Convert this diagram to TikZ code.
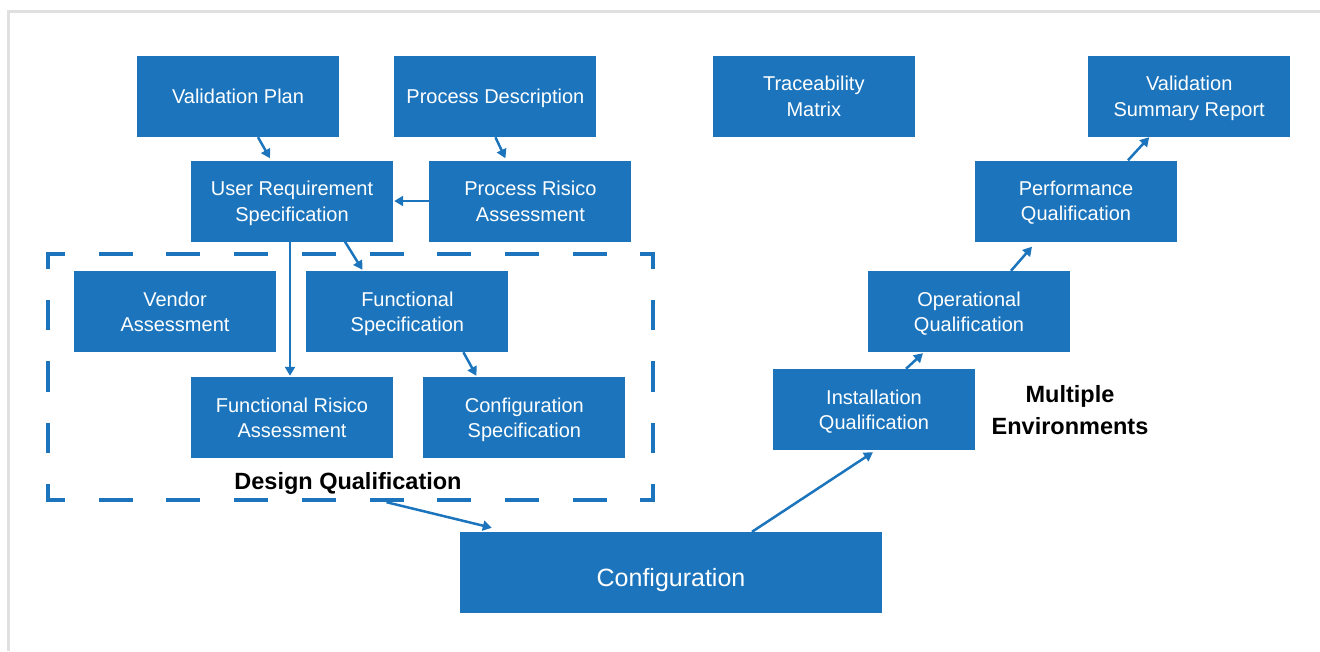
\documentclass[tikz,border=0pt]{standalone}
\usepackage{fontspec}
\setmainfont{Liberation Sans}
\usepackage{tikz}
\usetikzlibrary{arrows.meta,positioning}

\definecolor{boxblue}{RGB}{28,117,188}
\definecolor{framegray}{RGB}{224,224,224}

\begin{document}
\begin{tikzpicture}[
  x=1pt, y=-1pt,
  box/.style={
    rectangle,
    fill=boxblue,
    text=white,
    align=center,
    inner sep=0pt,
    text depth=0pt,
    minimum width=202pt,
    minimum height=81pt,
    font=\fontsize{20}{25.5}\selectfont
  },
  bigbox/.style={
    box,
    minimum width=422pt,
    text height=28pt,
    font=\fontsize{25}{30}\selectfont
  },
  heading/.style={
    align=center,
    font=\bfseries\fontsize{23.5}{32}\selectfont
  },
  dqline/.style={
    draw=boxblue,
    line width=4.5pt,
    line cap=rect
  },
  arr/.style={-{Triangle[length=9pt,width=10pt]}, draw=boxblue, line width=2.5pt}
]
\useasboundingbox (0,0) rectangle (1320,651);
\draw[framegray, line width=3pt] (8.5,651) -- (8.5,11) -- (1320,11);

% top row
\node[box] (vp) at (238,96.5) {Validation Plan};
\node[box, right=55pt of vp] (pd) {Process Description};
\node[box, right=116pt of pd] (tm) {Traceability\\Matrix};
\node[box, right=173pt of tm] (vsr) {Validation\\Summary Report};

% requirements
\node[box] (urs) at (292,201) {User Requirement\\Specification};
\node[box, right=36pt of urs] (pra) {Process Risico\\Assessment};

% design qualification
\node[minimum width=605pt, minimum height=246pt, inner sep=0pt] (dq) at (350.5,377) {};
\node[box] (va) at (175,311.5) {Vendor\\Assessment};
\node[box, right=30pt of va] (fs) {Functional\\Specification};
\node[box] (fra) at (292,417.5) {Functional Risico\\Assessment};
\node[box, right=30pt of fra] (cs) {Configuration\\Specification};
\node[heading] (dqlabel) at (348,483) {Design Qualification};

\draw[dqline, dash pattern=on 29.5pt off 38.2pt, dash phase=14.5pt] (dq.north west) -- (dq.north east);
\draw[dqline, dash pattern=on 29.5pt off 38.2pt, dash phase=14.5pt] (dq.south west) -- (dq.south east);
\draw[dqline, dash pattern=on 26pt off 35.5pt, dash phase=13.25pt] (dq.north west) -- (dq.south west);
\draw[dqline, dash pattern=on 26pt off 35.5pt, dash phase=13.25pt] (dq.north east) -- (dq.south east);

\node[bigbox] (config) at (671,572.5) {Configuration};

% qualification steps
\node[box] (iq) at (874,409.5) {Installation\\Qualification};
\node[box] (oq) at (969,311.5) {Operational\\Qualification};
\node[box] (pq) at (1076,201) {Performance\\Qualification};
\node[heading] (envlabel) at (1070,410) {Multiple\\Environments};

\draw[arr] ([xshift=20pt]vp.south) -- ([xshift=-22pt,yshift=2pt]urs.north);
\draw[arr] (pd.south) -- ([xshift=-25pt,yshift=2pt]pra.north);
\draw[arr] (pra.west) -- ([xshift=1pt]urs.east);
\draw[arr] ([xshift=53pt]urs.south) -- ([xshift=-45pt,yshift=1pt]fs.north);
\draw[arr] ([xshift=-2pt]urs.south) -- ([xshift=-2pt,yshift=1pt]fra.north);
\draw[arr] ([xshift=56pt]fs.south) -- ([xshift=-48pt,yshift=1pt]cs.north);
\draw[arr] ([xshift=36pt,yshift=-2pt]dq.south) -- ([xshift=32pt,yshift=4pt]config.north west);
\draw[arr] ([xshift=81pt]config.north) -- ([xshift=-1pt,yshift=-2pt]iq.south);
\draw[arr] ([xshift=32pt]iq.north) -- ([xshift=-46pt,yshift=-1pt]oq.south);
\draw[arr] ([xshift=42pt]oq.north) -- ([xshift=-44pt,yshift=-5pt]pq.south);
\draw[arr] ([xshift=52pt]pq.north) -- ([xshift=-40pt]vsr.south);
\end{tikzpicture}
\end{document}
